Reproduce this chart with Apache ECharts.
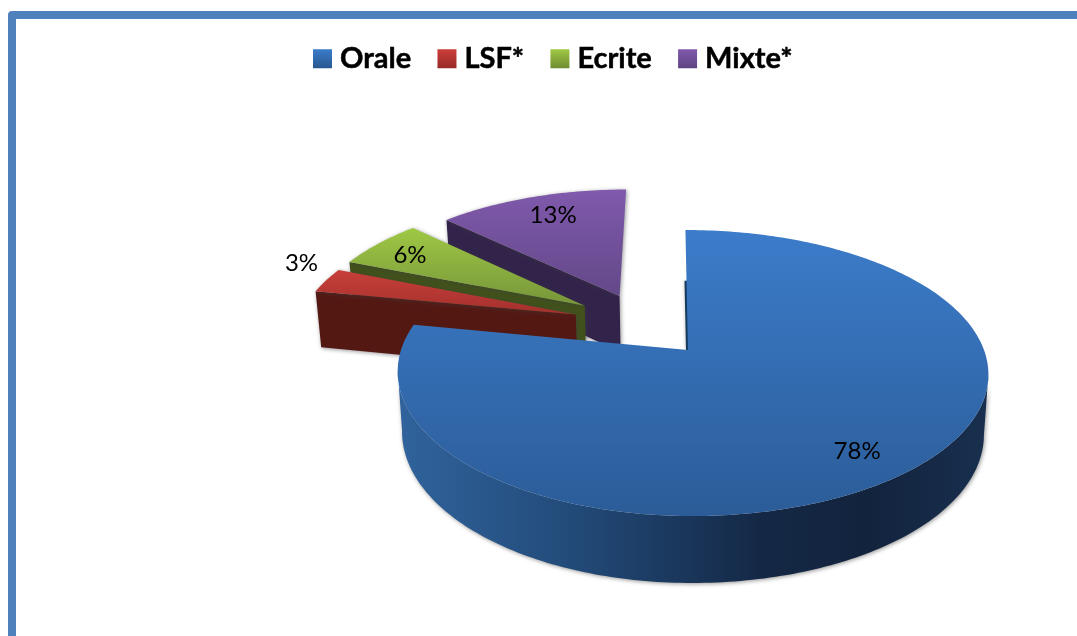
<!DOCTYPE html>
<html>
<head>
<meta charset="utf-8">
<title>Pie</title>
<script src="https://cdn.jsdelivr.net/npm/echarts@6/dist/echarts.min.js"></script>
<style>
  html, body { margin: 0; height: 100%; background: #fff; overflow: hidden; }
  #main { position: absolute; left: 0; top: 0; width: 1077px; height: 636px; }
  /* page frame, runs off the right and bottom of the window */
  #frame {
    position: absolute; left: 8px; top: 11px; width: 1200px; height: 800px;
    border: 8px solid #4f81bd; border-radius: 4px;
  }
</style>
</head>
<body>
<div id="frame"></div>
<div id="main"></div>
<script>
const categories = ["Orale", "LSF*", "Ecrite", "Mixte*"];
const values = [78, 3, 6, 13];

// look of each slice
const topColors = [["#3c7cca", "#2b5c98"], ["#c83f3a", "#a4302c"], ["#9fc844", "#76953a"], ["#8059ac", "#634889"]];
const wallColors = ["#1c3d66", "#541813", "#40511b", "#32234a"];
const legendColors = [["#3a7bcb", "#28588f"], ["#cc3e3a", "#962a27"], ["#9fc844", "#6f8c32"], ["#8059ac", "#5f4484"]];
// how far each slice is pulled out, in pie radii (x, depth)
const explode = [[0, 0], [-0.405, -0.265], [-0.376, -0.335], [-0.25, -0.414]];
// label place on the pie plane
const labelPlace = [[0.505, 0.649], [-1.49, -0.695], [-1.08, -0.766], [-0.545, -1.148]];

// perspective of the pie plane
const cx = 688, cy = 350;
const radiusRight = 296, radiusLeft = 287, squash = 139.3, persp = 0.161, thickness = 59, narrow = 0.985, tilt = 3;

function project(u, v) {
  const den = 1 - persp * v;
  const r = u > 0 ? radiusRight : radiusLeft;
  return [cx + (r * u + tilt * v) / den, cy + squash * v / den];
}
function dropped(u, v) {
  const p = project(u, v);
  return [cx + (p[0] - cx) * narrow, p[1] + thickness / Math.pow(1 - persp * v, 0.72)];
}

const total = values.reduce((a, b) => a + b, 0);
function sliceAngles(i) {
  let before = 0;
  for (let k = 0; k < i; k++) before += values[k];
  return [before / total * 2 * Math.PI, (before + values[i]) / total * 2 * Math.PI];
}

function vGrad(c, y0, y1) {
  return { type: "linear", global: true, x: 0, y: y0, x2: 0, y2: y1,
    colorStops: [{ offset: 0, color: c[0] }, { offset: 1, color: c[1] }] };
}

function renderSlice(i) {
  return function () {
    const a = sliceAngles(i), off = explode[i];
    const rim = [];
    const steps = Math.ceil((a[1] - a[0]) / (Math.PI / 180));
    for (let s = 0; s <= steps; s++) {
      const t = a[0] + (a[1] - a[0]) * s / steps;
      rim.push([Math.sin(t) + off[0], -Math.cos(t) + off[1]]);
    }
    const top = [project(off[0], off[1])].concat(rim.map(p => project(p[0], p[1])));
    const ys = top.map(p => p[1]);
    const children = [];
    const shadow = { shadowBlur: 4, shadowColor: "rgba(60,60,60,0.55)", shadowOffsetX: 1, shadowOffsetY: 1 };

    if (i === 0) {
      // blue slice: outer wall only between the widest points of the rim
      const xs = rim.map(p => project(p[0], p[1])[0]);
      const front = rim.slice(xs.indexOf(Math.max.apply(null, xs)), xs.indexOf(Math.min.apply(null, xs)) + 1);
      const wall = front.map(p => project(p[0], p[1])).concat(front.slice().reverse().map(p => dropped(p[0], p[1])));
      children.push({
        type: "polygon", shape: { points: wall },
        style: Object.assign({
          fill: { type: "linear", global: true, x: 400, y: 0, x2: 985, y2: 0, colorStops: [
            { offset: 0, color: "#30639c" }, { offset: 0.3, color: "#224a78" }, { offset: 0.62, color: "#142845" },
            { offset: 0.8, color: "#12233d" }, { offset: 1, color: "#182f4e" }] }
        }, shadow)
      });
      children.push({
        type: "polyline", shape: { points: [project(rim[0][0], rim[0][1] * 0.54), project(0, 0)] },
        style: Object.assign({ stroke: "#143a5e", fill: null, lineWidth: 4 }, shadow)
      });
    } else {
      // pulled out slices: the flat side that faces the viewer
      const edge = rim[0];
      children.push({
        type: "polygon",
        shape: { points: [project(edge[0], edge[1]), project(off[0], off[1]), dropped(off[0], off[1]), dropped(edge[0], edge[1])] },
        style: Object.assign({ fill: wallColors[i] }, shadow)
      });
    }
    children.push({
      type: "polygon", shape: { points: top },
      style: Object.assign({ fill: vGrad(topColors[i], Math.min.apply(null, ys), Math.max.apply(null, ys)) }, i ? shadow : {})
    });
    const lp = project(labelPlace[i][0], labelPlace[i][1]);
    children.push({
      type: "text",
      style: { text: values[i] + "%", x: lp[0], y: lp[1], fill: "#000", font: "24px Lato", align: "center", verticalAlign: "middle" }
    });
    return { type: "group", children: children };
  };
}

const chart = echarts.init(document.getElementById("main"), null, { renderer: "canvas" });
chart.setOption({
  backgroundColor: "transparent",
  animation: false,
  legend: {
    data: categories,
    left: 308,
    top: 39,
    icon: "rect",
    itemWidth: 19,
    itemHeight: 19,
    itemGap: 26,
    textStyle: {
      fontFamily: "Lato", fontWeight: "bold", fontSize: 29, color: "#000", padding: [0, 0, 0, 3],
      textBorderColor: "#000", textBorderWidth: 0.5
    },
    selectedMode: false
  },
  series: categories.map((name, i) => ({
    name: name,
    type: "custom",
    coordinateSystem: "none",
    z: 6 - i,
    silent: true,
    itemStyle: {
      color: { type: "linear", x: 0, y: 0, x2: 0, y2: 1,
        colorStops: [{ offset: 0, color: legendColors[i][0] }, { offset: 1, color: legendColors[i][1] }] }
    },
    data: [values[i]],
    renderItem: renderSlice(i)
  }))
});
</script>
</body>
</html>
